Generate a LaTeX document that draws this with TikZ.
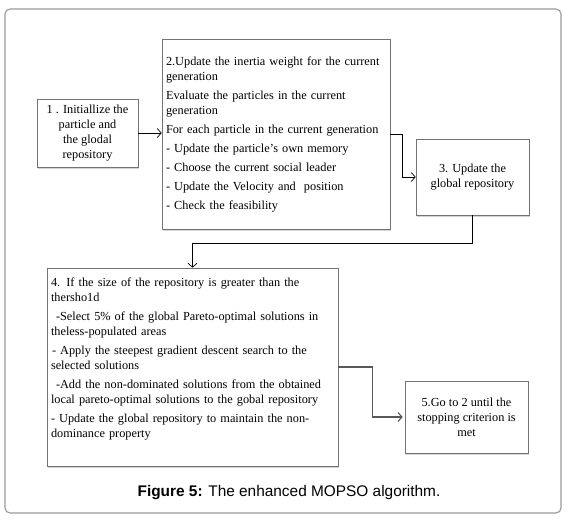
\documentclass[tikz,border=0pt]{standalone}
\usepackage{fontspec}
\setmainfont{Liberation Serif}
\setsansfont{Liberation Sans}
\usetikzlibrary{arrows.meta,shadows}

\begin{document}
\begin{tikzpicture}[x=1pt,y=-1pt,
		stepbox/.style={draw=black!55,fill=white,line width=0.6pt,
			drop shadow={shadow xshift=1pt,shadow yshift=-1.5pt,opacity=0.35},
			font=\fontsize{12.3}{15}\selectfont,inner sep=4pt},
		conn/.style={line width=0.7pt,-{Straight Barb[length=4pt,width=9pt]}},
		gconn/.style={conn,draw=black!65,line width=1.1pt}]
				\useasboundingbox (0,0) rectangle (568,520);
				% outer frame
				\draw[black!40,line width=1.1pt,rounded corners=5pt] (5,9) rectangle (561,513);
				% the five steps
				\node[stepbox,minimum width=101pt,minimum height=68pt,align=center] (init) at (87.5,133)
					{1 . Initiallize the\\particle and\\the glodal\\repository};
				\node[stepbox,minimum width=228pt,minimum height=190pt,text width=220pt,align=left] (inertia) at (276,134)
					{2.Update the inertia weight for the current\\generation\\[4pt]
					Evaluate the particles in the current\\generation\\[4pt]
					For each particle in the current generation\\[4pt]
					- Update the particle's own memory\\[4pt]
					- Choose the current social leader\\[4pt]
					- Update the Velocity and\ \ position\\[4pt]
					- Check the feasibility};
				\node[stepbox,minimum width=113pt,minimum height=76pt,align=center] (globrep) at (472.5,177)
					{3. Update the\\global repository};
				\node[stepbox,minimum width=291pt,minimum height=198pt,text width=283pt,align=left] (thresh) at (192.5,367)
					{4. If the size of the repository is greater than the\\thersho1d\\[4pt]
					\hspace*{5pt}-Select 5\% of the global Pareto-optimal solutions in\\theless-populated areas\\[4pt]
					\hspace*{1pt}- Apply the steepest gradient descent search to the\\selected solutions\\[4pt]
					\hspace*{5pt}-Add the non-dominated solutions from the obtained\\local pareto-optimal solutions to the gobal repository\\[4pt]
					- Update the global repository to maintain the non-\\dominance property\\[4pt]
					\mbox{}};
				\node[stepbox,minimum width=123pt,minimum height=72pt,align=center] (stop) at (466.5,417)
					{5.Go to 2 until the\\stopping criterion is\\met};
				% connectors
				\draw[conn] (init.east) -- (init.east -| inertia.west);
				\draw[conn] (inertia.east) -- ++(12,0) |- (globrep.west);
				\draw[conn] (globrep.south) -- ++(0,28) -| (thresh.north);
				\draw[gconn,shorten >=2pt] (thresh.east) -- ++(34,0) |- (stop.west);
				% caption
				\node[font=\sffamily\fontsize{15.4}{18}\selectfont] (caption) at (289,493)
					{\textbf{Figure 5:} The enhanced MOPSO algorithm.};
			\end{tikzpicture}
\end{document}
